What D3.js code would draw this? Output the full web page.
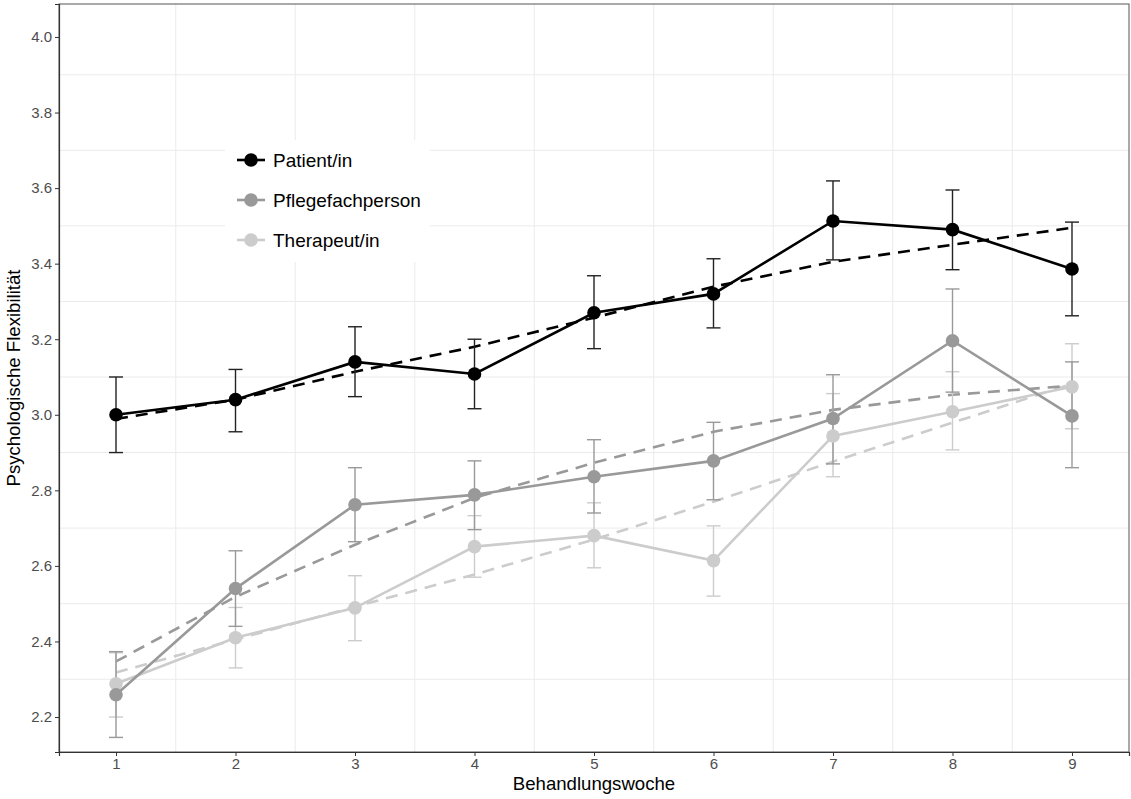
<!DOCTYPE html>
<html>
<head>
<meta charset="utf-8">
<script src="https://cdn.jsdelivr.net/npm/d3@7"></script>
<style>
  body { margin: 0; background: #fff; }
  svg { font-family: "Liberation Sans", Arial, sans-serif; }
</style>
</head>
<body>
<div id="chart"></div>
<script>
// data
const weeks = [1, 2, 3, 4, 5, 6, 7, 8, 9];
const groups = ["Patient/in", "Pflegefachperson", "Therapeut/in"];

const patientMean = [3.00, 3.04, 3.14, 3.108, 3.27, 3.32, 3.513, 3.49, 3.386];
const patientLow  = [2.90, 2.955, 3.048, 3.016, 3.175, 3.23, 3.41, 3.384, 3.262];
const patientHigh = [3.10, 3.12, 3.233, 3.20, 3.368, 3.413, 3.619, 3.595, 3.51];
const patientFit  = [2.989, 3.04, 3.114, 3.18, 3.257, 3.339, 3.405, 3.45, 3.495];

const pflegeMean = [2.259, 2.54, 2.762, 2.788, 2.836, 2.878, 2.99, 3.196, 2.997];
const pflegeLow  = [2.146, 2.44, 2.664, 2.696, 2.74, 2.775, 2.87, 3.06, 2.86];
const pflegeHigh = [2.373, 2.64, 2.86, 2.878, 2.934, 2.98, 3.106, 3.333, 3.14];
const pflegeFit  = [2.347, 2.518, 2.656, 2.78, 2.873, 2.955, 3.013, 3.053, 3.077];

const therapMean = [2.288, 2.41, 2.489, 2.651, 2.68, 2.614, 2.944, 3.008, 3.074];
const therapLow  = [2.20, 2.33, 2.402, 2.57, 2.595, 2.52, 2.836, 2.907, 2.963];
const therapHigh = [2.37, 2.49, 2.574, 2.733, 2.767, 2.706, 3.056, 3.114, 3.188];
const therapFit  = [2.318, 2.405, 2.492, 2.577, 2.67, 2.77, 2.876, 2.979, 3.082];

const yTicks = [2.2, 2.4, 2.6, 2.8, 3.0, 3.2, 3.4, 3.6, 3.8, 4.0];
const yGrid = [2.3, 2.5, 2.7, 2.9, 3.1, 3.3, 3.5, 3.7, 3.9];
const xGrid = [1.5, 2.5, 3.5, 4.5, 5.5, 6.5, 7.5, 8.5];

const colors = ["#000000", "#999999", "#cccccc"];
const barColors = ["#222222", "#999999", "#cccccc"];

function build(mean, low, high, fit) {
  return weeks.map((w, i) => ({ week: w, mean: mean[i], low: low[i], high: high[i], fit: fit[i] }));
}
const series = [
  build(patientMean, patientLow, patientHigh, patientFit),
  build(pflegeMean, pflegeLow, pflegeHigh, pflegeFit),
  build(therapMean, therapLow, therapHigh, therapFit)
];

const W = 1131, H = 799;
const panel = { left: 59, right: 1129, top: 4, bottom: 752 };

const x = d3.scaleLinear().domain([0.523, 9.477]).range([panel.left, panel.right]);
const y = d3.scaleLinear().domain([2.1074, 4.0873]).range([panel.bottom, panel.top]);

const svg = d3.select("#chart").append("svg")
  .attr("width", W)
  .attr("height", H);

// grid (minor lines only, like the reference)
svg.append("g").selectAll("line").data(yGrid).enter().append("line")
  .attr("x1", panel.left).attr("x2", panel.right)
  .attr("y1", d => y(d)).attr("y2", d => y(d))
  .attr("stroke", "#ebebeb").attr("stroke-width", 1);
svg.append("g").selectAll("line").data(xGrid).enter().append("line")
  .attr("y1", panel.top).attr("y2", panel.bottom)
  .attr("x1", d => x(d)).attr("x2", d => x(d))
  .attr("stroke", "#ebebeb").attr("stroke-width", 1);

// draw order: therapist, nurse, patient on top
const order = [2, 1, 0];

const line = d3.line().x(d => x(d.week)).y(d => y(d.mean));
const fitLine = d3.line().x(d => x(d.week)).y(d => y(d.fit));

order.forEach(k => {
  svg.append("path")
    .datum(series[k])
    .attr("d", fitLine)
    .attr("fill", "none")
    .attr("stroke", colors[k])
    .attr("stroke-width", 2.6)
    .attr("stroke-dasharray", "12,8");
});

order.forEach(k => {
  const g = svg.append("g").attr("stroke", barColors[k]).attr("stroke-width", 1.4);
  const bars = g.selectAll("g").data(series[k]).enter().append("g");
  bars.append("line")
    .attr("x1", d => x(d.week)).attr("x2", d => x(d.week))
    .attr("y1", d => y(d.low)).attr("y2", d => y(d.high));
  bars.append("line")
    .attr("x1", d => x(d.week) - 7).attr("x2", d => x(d.week) + 7)
    .attr("y1", d => y(d.low)).attr("y2", d => y(d.low));
  bars.append("line")
    .attr("x1", d => x(d.week) - 7).attr("x2", d => x(d.week) + 7)
    .attr("y1", d => y(d.high)).attr("y2", d => y(d.high));
});

order.forEach(k => {
  svg.append("path")
    .datum(series[k])
    .attr("d", line)
    .attr("fill", "none")
    .attr("stroke", colors[k])
    .attr("stroke-width", 2.6);
  svg.append("g").selectAll("circle")
    .data(series[k]).enter().append("circle")
    .attr("cx", d => x(d.week))
    .attr("cy", d => y(d.mean))
    .attr("r", 6.8)
    .attr("fill", colors[k]);
});

// panel border
svg.append("rect")
  .attr("x", panel.left).attr("y", panel.top)
  .attr("width", panel.right - panel.left)
  .attr("height", panel.bottom - panel.top)
  .attr("fill", "none")
  .attr("stroke", "#555").attr("stroke-width", 1);

// axes
const yAxis = d3.axisLeft(y).tickValues(yTicks).tickFormat(d3.format(".1f")).tickSize(4).tickPadding(3);
const xAxis = d3.axisBottom(x).tickValues(weeks).tickFormat(d3.format("d")).tickSize(4).tickPadding(2);

const gy = svg.append("g")
  .attr("transform", "translate(" + panel.left + ",0)")
  .call(yAxis);
const gx = svg.append("g")
  .attr("transform", "translate(0," + panel.bottom + ")")
  .call(xAxis);

[gx, gy].forEach(g => {
  g.select(".domain").attr("stroke", "#333").attr("stroke-width", 1.2);
  g.selectAll(".tick line").attr("stroke", "#333");
  g.selectAll(".tick text")
    .attr("fill", "#4d4d4d")
    .style("font-size", "15px")
    .style("font-family", "Liberation Sans, Arial, sans-serif");
});

svg.append("text")
  .attr("x", (panel.left + panel.right) / 2)
  .attr("y", 790)
  .attr("text-anchor", "middle")
  .style("font-size", "18.6px")
  .attr("fill", "#000")
  .text("Behandlungswoche");

svg.append("text")
  .attr("transform", "translate(20," + ((panel.top + panel.bottom) / 2) + ") rotate(-90)")
  .attr("text-anchor", "middle")
  .style("font-size", "18.6px")
  .attr("fill", "#000")
  .text("Psychologische Flexibilität");

// legend
const legend = svg.append("g").attr("transform", "translate(225,140)");
legend.append("rect")
  .attr("width", 205).attr("height", 122)
  .attr("fill", "#fff");
groups.forEach((name, i) => {
  const row = legend.append("g").attr("transform", "translate(0," + (20 + i * 40) + ")");
  row.append("line")
    .attr("x1", 12).attr("x2", 40)
    .attr("stroke", colors[i]).attr("stroke-width", 2.6);
  row.append("circle")
    .attr("cx", 26).attr("r", 6.8)
    .attr("fill", colors[i]);
  row.append("text")
    .attr("x", 48).attr("y", 7)
    .style("font-size", "19px")
    .attr("fill", "#000")
    .text(name);
});
</script>
</body>
</html>
